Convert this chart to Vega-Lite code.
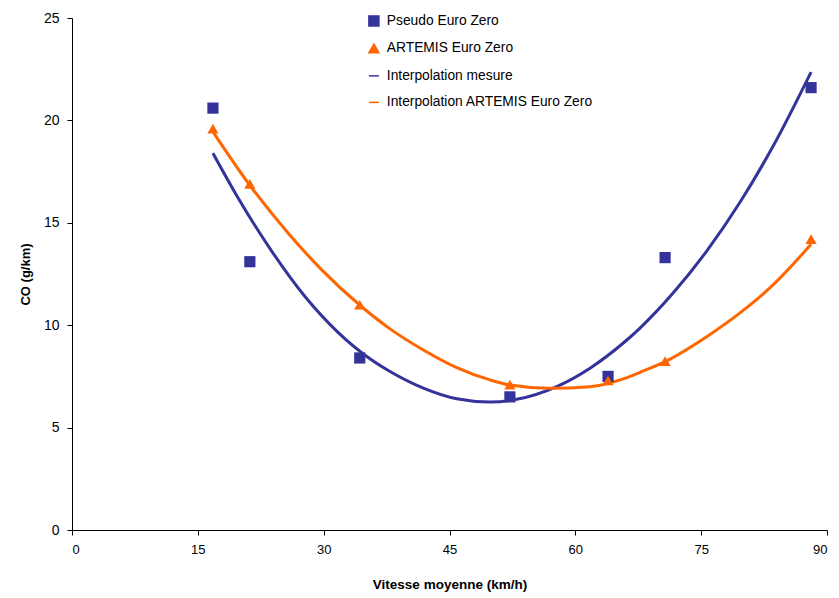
{
  "$schema": "https://vega.github.io/schema/vega-lite/v6.json",
  "width": 755,
  "height": 512,
  "autosize": {"type": "none"},
  "padding": {"left": 72, "top": 18, "right": 12, "bottom": 68},
  "background": "white",
  "config": {
    "view": {"stroke": null},
    "font": "Liberation Sans",
    "axis": {
      "grid": false,
      "domainColor": "#000000",
      "tickColor": "#000000",
      "tickSize": 5,
      "labelColor": "#000000",
      "titleColor": "#000000",
      "labelFont": "Liberation Sans",
      "titleFont": "Liberation Sans",
      "titleFontWeight": "bold"
    }
  },
  "datasets": {
    "pts": [
      {"series": "Pseudo Euro Zero", "x": 16.8, "y": 20.6},
      {"series": "Pseudo Euro Zero", "x": 21.2, "y": 13.1},
      {"series": "Pseudo Euro Zero", "x": 34.3, "y": 8.4},
      {"series": "Pseudo Euro Zero", "x": 52.2, "y": 6.5},
      {"series": "Pseudo Euro Zero", "x": 63.9, "y": 7.5},
      {"series": "Pseudo Euro Zero", "x": 70.7, "y": 13.3},
      {"series": "Pseudo Euro Zero", "x": 88.1, "y": 21.6},
      {"series": "ARTEMIS Euro Zero", "x": 16.8, "y": 19.6},
      {"series": "ARTEMIS Euro Zero", "x": 21.2, "y": 16.9},
      {"series": "ARTEMIS Euro Zero", "x": 34.3, "y": 11.0},
      {"series": "ARTEMIS Euro Zero", "x": 52.2, "y": 7.1},
      {"series": "ARTEMIS Euro Zero", "x": 63.9, "y": 7.3},
      {"series": "ARTEMIS Euro Zero", "x": 70.7, "y": 8.25},
      {"series": "ARTEMIS Euro Zero", "x": 88.1, "y": 14.2}
    ],
    "curves": [
      {"series": "Interpolation mesure", "x": 16.8, "y": 18.4},
      {"series": "Interpolation mesure", "x": 19.82, "y": 16.2},
      {"series": "Interpolation mesure", "x": 23.8, "y": 13.62},
      {"series": "Interpolation mesure", "x": 27.77, "y": 11.4},
      {"series": "Interpolation mesure", "x": 31.74, "y": 9.64},
      {"series": "Interpolation mesure", "x": 35.73, "y": 8.3},
      {"series": "Interpolation mesure", "x": 37.91, "y": 7.74},
      {"series": "Interpolation mesure", "x": 41.88, "y": 6.93},
      {"series": "Interpolation mesure", "x": 45.86, "y": 6.41},
      {"series": "Interpolation mesure", "x": 49.83, "y": 6.25},
      {"series": "Interpolation mesure", "x": 53.01, "y": 6.38},
      {"series": "Interpolation mesure", "x": 57.78, "y": 7.0},
      {"series": "Interpolation mesure", "x": 61.75, "y": 7.9},
      {"series": "Interpolation mesure", "x": 65.72, "y": 9.13},
      {"series": "Interpolation mesure", "x": 67.71, "y": 9.86},
      {"series": "Interpolation mesure", "x": 71.68, "y": 11.58},
      {"series": "Interpolation mesure", "x": 75.66, "y": 13.62},
      {"series": "Interpolation mesure", "x": 79.63, "y": 16.0},
      {"series": "Interpolation mesure", "x": 83.6, "y": 18.76},
      {"series": "Interpolation mesure", "x": 88.1, "y": 22.36},
      {"series": "Interpolation ARTEMIS Euro Zero", "x": 16.8, "y": 19.44},
      {"series": "Interpolation ARTEMIS Euro Zero", "x": 21.02, "y": 16.93},
      {"series": "Interpolation ARTEMIS Euro Zero", "x": 25.78, "y": 14.49},
      {"series": "Interpolation ARTEMIS Euro Zero", "x": 29.77, "y": 12.7},
      {"series": "Interpolation ARTEMIS Euro Zero", "x": 34.53, "y": 10.9},
      {"series": "Interpolation ARTEMIS Euro Zero", "x": 37.91, "y": 9.82},
      {"series": "Interpolation ARTEMIS Euro Zero", "x": 41.88, "y": 8.79},
      {"series": "Interpolation ARTEMIS Euro Zero", "x": 45.86, "y": 7.93},
      {"series": "Interpolation ARTEMIS Euro Zero", "x": 49.83, "y": 7.33},
      {"series": "Interpolation ARTEMIS Euro Zero", "x": 52.21, "y": 7.08},
      {"series": "Interpolation ARTEMIS Euro Zero", "x": 56.98, "y": 6.92},
      {"series": "Interpolation ARTEMIS Euro Zero", "x": 61.75, "y": 7.0},
      {"series": "Interpolation ARTEMIS Euro Zero", "x": 65.72, "y": 7.38},
      {"series": "Interpolation ARTEMIS Euro Zero", "x": 67.71, "y": 7.7},
      {"series": "Interpolation ARTEMIS Euro Zero", "x": 70.69, "y": 8.22},
      {"series": "Interpolation ARTEMIS Euro Zero", "x": 75.66, "y": 9.44},
      {"series": "Interpolation ARTEMIS Euro Zero", "x": 79.63, "y": 10.6},
      {"series": "Interpolation ARTEMIS Euro Zero", "x": 83.6, "y": 11.98},
      {"series": "Interpolation ARTEMIS Euro Zero", "x": 88.1, "y": 13.95}
    ]
  },
  "layer": [
    {
      "data": {"name": "curves"},
      "mark": {"type": "line", "interpolate": "monotone", "strokeWidth": 3},
      "encoding": {
        "x": {"field": "x", "type": "quantitative"},
        "y": {"field": "y", "type": "quantitative"},
        "color": {"field": "series", "type": "nominal"}
      }
    },
    {
      "data": {"name": "pts"},
      "mark": {"type": "point", "filled": true, "opacity": 1},
      "encoding": {
        "x": {
          "field": "x",
          "type": "quantitative",
          "scale": {"domain": [0, 90], "nice": false, "zero": true},
          "axis": {
            "values": [0, 15, 30, 45, 60, 75, 90],
            "title": "Vitesse moyenne (km/h)",
            "labelFontSize": 13,
            "labelPadding": 8,
            "titleFontSize": 13.5,
            "titlePadding": 21
          }
        },
        "y": {
          "field": "y",
          "type": "quantitative",
          "scale": {"domain": [0, 25], "nice": false},
          "axis": {
            "values": [0, 5, 10, 15, 20, 25],
            "title": "CO (g/km)",
            "labelFontSize": 14,
            "labelPadding": 8,
            "titleFontSize": 13,
            "titlePadding": 11
          }
        },
        "color": {
          "field": "series",
          "type": "nominal",
          "scale": {
            "domain": ["Pseudo Euro Zero", "ARTEMIS Euro Zero", "Interpolation mesure", "Interpolation ARTEMIS Euro Zero"],
            "range": ["#333399", "#FF6600", "#333399", "#FF6600"]
          },
          "legend": {
            "title": null,
            "orient": "none",
            "legendX": 295,
            "legendY": -4,
            "padding": 0,
            "symbolSize": 100,
            "symbolOffset": 0,
            "labelOffset": 6,
            "rowPadding": 11.5,
            "labelLimit": 400,
            "labelFont": "Liberation Sans",
            "labelFontSize": 13.8,
            "labelColor": "#000000",
            "encode": {
              "symbols": {
                "update": {
                  "shape": [
                    {"test": "datum.value === 'Pseudo Euro Zero'", "value": "square"},
                    {"test": "datum.value === 'ARTEMIS Euro Zero'", "value": "triangle-up"},
                    {"value": "M-2,0H2"}
                  ],
                  "fill": [
                    {"test": "datum.value === 'Pseudo Euro Zero' || datum.value === 'ARTEMIS Euro Zero'", "scale": "color", "field": "value"},
                    {"value": "transparent"}
                  ],
                  "stroke": [
                    {"test": "datum.value === 'Pseudo Euro Zero' || datum.value === 'ARTEMIS Euro Zero'", "value": "transparent"},
                    {"scale": "color", "field": "value"}
                  ],
                  "strokeWidth": {"value": 3},
                  "opacity": {"value": 1}
                }
              }
            }
          }
        },
        "shape": {
          "field": "series",
          "type": "nominal",
          "scale": {
            "domain": ["Pseudo Euro Zero", "ARTEMIS Euro Zero", "Interpolation mesure", "Interpolation ARTEMIS Euro Zero"],
            "range": ["square", "triangle-up", "stroke", "stroke"]
          },
          "legend": null
        },
        "size": {"value": 125}
      }
    }
  ]
}
